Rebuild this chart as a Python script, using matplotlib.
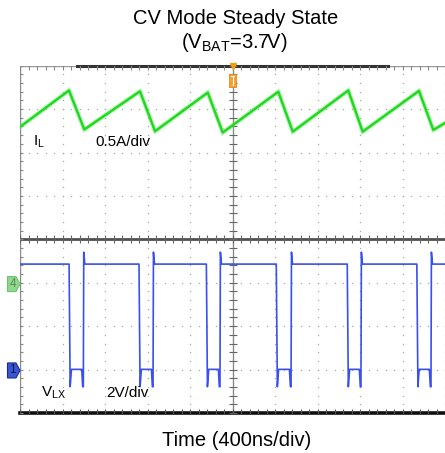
import numpy as np
import matplotlib
matplotlib.use("Agg")
import matplotlib.pyplot as plt
from matplotlib.patches import Polygon, Rectangle

plt.rcParams['font.family'] = ['Liberation Sans', 'DejaVu Sans']
plt.rcParams['mathtext.fontset'] = 'custom'
plt.rcParams['mathtext.rm'] = 'Liberation Sans'
plt.rcParams['mathtext.it'] = 'Liberation Sans'

# ---------------- data (read from the scope capture) ----------------
# Inductor current I_L (A), 0.5 A/div, channel-4 reference at 2.97 div
t_il = [-2000, -1539, -1395, -871, -729, -233, -92, 431, 567, 1090, 1225, 1755, 1890, 2000]  # ns
i_l = [1.81, 2.23, 1.78, 2.22, 1.76, 2.205, 1.745, 2.215, 1.755, 2.23, 1.755, 2.225, 1.775, 1.855]  # A
il_ref_div = 2.97
il_scale = 0.5  # A/div

# Switch node V_LX (V), 2 V/div, channel-1 reference at 0.98 div
lx_fall = [-1538, -880, -246, 412, 1080, 1735]   # ns, falling edges
lx_rise = [-1404, -748, -118, 551, 1209, 1868]   # ns, rising edges
lx_high = 4.9      # V
lx_low = 0.05      # V
lx_dip = -0.75     # V (undershoot at edges)
lx_over = 5.45     # V (overshoot after rising edge)
lx_ref_div = 0.98
lx_scale = 2.0  # V/div

time_per_div = 400  # ns

# ---------------- figure ----------------
W, H = 445, 453
fig = plt.figure(figsize=(W / 100, H / 100), dpi=100)
ax = fig.add_axes([20 / W, 40 / H, 425 / W, 347.3 / H])
ax.set_xlim(-5 * time_per_div, 5 * time_per_div)
ax.set_ylim(0, 8)
ax.axis('off')

# dotted grid
minor_y = np.arange(0, 8.001, 0.2)
minor_x = np.arange(-2000, 2000.1, time_per_div / 5)
for xv in np.arange(-1600, 2001, time_per_div):
    if xv == 0:
        continue
    ax.plot(np.full(minor_y.size, xv), minor_y, ls='none', marker='s', ms=0.9,
            mec='none', mfc='#a8a8a8', clip_on=False)
for yv in range(1, 8):
    if yv == 4:
        continue
    ax.plot(minor_x, np.full(minor_x.size, yv), ls='none', marker='s', ms=0.9,
            mec='none', mfc='#a8a8a8')

# border lines
ax.plot([-2000, -2000], [0, 8], color='#8a8a8a', lw=1.0)
ax.plot([-2000, 2000], [8, 8], color='#9a9a9a', lw=1.0)
ax.plot([-1464, 1464], [8, 8], color='#333333', lw=2.2, clip_on=False)
ax.plot([-2000, 2000], [0, 0], color='#111111', lw=2.6, clip_on=False)
# center lines
ax.plot([0, 0], [0, 8], color='#8a8a8a', lw=1.0)
ax.plot([-2000, 2000], [4, 4], color='#505050', lw=2.0)

# minor ticks
ax.plot(minor_x, np.full(minor_x.size, 4), ls='none', marker='|', ms=6, mew=0.8, color='#666666')
ax.plot(np.zeros(minor_y.size), minor_y, ls='none', marker='_', ms=6, mew=0.8, color='#666666')
ax.plot(np.full(minor_y.size, -2000), minor_y, ls='none', marker='_', ms=5, mew=0.8, color='#888888')
ax.plot(minor_x, np.full(minor_x.size, 8), ls='none', marker='|', ms=6, mew=0.8, color='#888888')
ax.plot(minor_x, np.zeros(minor_x.size), ls='none', marker='|', ms=6, mew=0.8, color='#555555')

# I_L trace
il_div = il_ref_div + np.array(i_l) / il_scale
ax.plot(t_il, il_div, color='#55ee55', lw=3.2, alpha=0.45, solid_joinstyle='miter')
ax.plot(t_il, il_div, color='#22d622', lw=1.7)

# V_LX trace
tv, vv = [-2000], [lx_high]
for f, r in zip(lx_fall, lx_rise):
    tv += [f, f + 10, f + 22, r - 15, r - 6, r, r + 4, r + 14]
    vv += [lx_high, lx_dip, lx_low, lx_low, lx_dip, lx_dip, lx_over, lx_high]
tv.append(2000)
vv.append(lx_high)
lx_div = lx_ref_div + np.array(vv) / lx_scale
ax.plot(tv, lx_div, color='#3a50ee', lw=1.2)

# trigger marker (top, at t=0)
px_ns = time_per_div / 42.5
px_div = 1 / 43.4
ax.plot([0], [8], marker='v', ms=5, color='#f39c12', clip_on=False)
ax.add_patch(Rectangle((-3.5 * px_ns, 8 - 21.3 * px_div), 7 * px_ns, 13.5 * px_div,
                       facecolor='#f5a030', edgecolor='#e08a10', lw=0.6, clip_on=False, zorder=5))
ax.plot([-1.8 * px_ns, 1.8 * px_ns], [8 - 10.5 * px_div] * 2, color='white', lw=0.8, zorder=6, clip_on=False)
ax.plot([0, 0], [8 - 10.5 * px_div, 8 - 19.5 * px_div], color='white', lw=0.8, zorder=6, clip_on=False)


def ch_marker(ydiv, face, edge, label, tcolor):
    x0 = -2000 - 12.5 * px_ns
    x1 = -2000 - 4 * px_ns
    h = 7.5 * px_div
    poly = Polygon([(x0, ydiv - h), (x1, ydiv - h), (-2000, ydiv), (x1, ydiv + h), (x0, ydiv + h)],
                   closed=True, facecolor=face, edgecolor=edge, lw=0.8, clip_on=False, zorder=5)
    ax.add_patch(poly)
    ax.text(-2000 - 7.5 * px_ns, ydiv, label, ha='center', va='center', fontsize=8.5,
            color=tcolor, clip_on=False, zorder=6)


ch_marker(il_ref_div, '#8fd98f', '#6cc46c', '4', '#5a8a5a')
ch_marker(lx_ref_div, '#3a56d8', '#1b2a8a', '1', '#0d1650')

# annotations
def ftext(x, y, s, **kw):
    fig.text(x / W, 1 - y / H, s, **kw)

ftext(33, 142, r'I$_{\mathrm{L}}$', ha='left', va='center', fontsize=11)
ftext(95, 142, '0.5A/div', ha='left', va='center', fontsize=11)
ftext(41, 393, r'V$_{\mathrm{LX}}$', ha='left', va='center', fontsize=11)
ftext(106.5, 393, '2V/div', ha='left', va='center', fontsize=11)

ftext(236, 18, 'CV Mode Steady State', ha='center', va='center', fontsize=14.5)
ftext(234, 43, r'(V$_{\mathrm{BAT}}$=3.7V)', ha='center', va='center', fontsize=14.5)
ftext(237, 441, 'Time (400ns/div)', ha='center', va='center', fontsize=14.5)

fig.savefig('out.png', dpi=100)
